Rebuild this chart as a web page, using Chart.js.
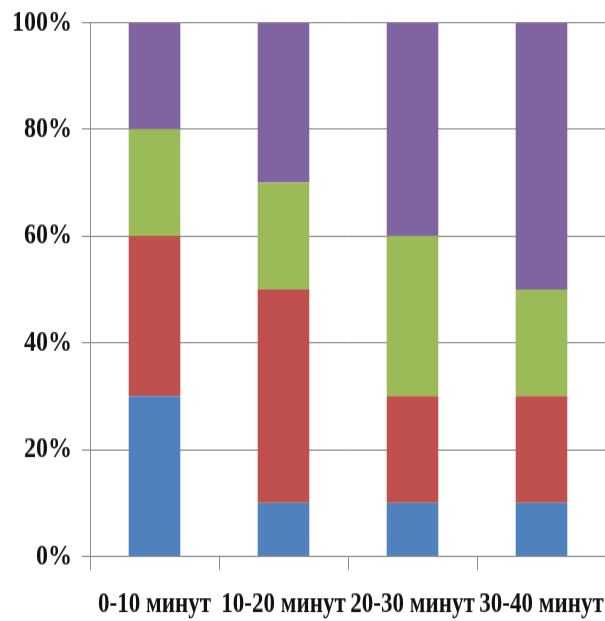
<!DOCTYPE html>
<html>
<head>
<meta charset="utf-8">
<script src="https://cdn.jsdelivr.net/npm/chart.js@4/dist/chart.umd.min.js"></script>
<style>
  html, body { margin: 0; padding: 0; background: #fff; overflow: hidden; }
  #wrap { width: 605px; height: 621px; overflow: hidden; position: relative; }
  /* tall, narrow Times-style lettering: the canvas is stretched vertically */
  #c { position: absolute; left: 0; top: -8.5px; transform: scaleY(1.25); transform-origin: 0 0; }
</style>
</head>
<body>
<div id="wrap"><canvas id="c" width="720" height="518"></canvas></div>
<script>
// Time intervals on the horizontal axis
const categories = ['0-10 минут', '10-20 минут', '20-30 минут', '30-40 минут'];

// Share of each group per interval, percent
const seriesBlue   = [30, 10, 10, 10];
const seriesRed    = [30, 40, 20, 20];
const seriesGreen  = [20, 20, 30, 20];
const seriesPurple = [20, 30, 40, 50];

const yTicks = [0, 20, 40, 60, 80, 100];

const fontFamily = '"Liberation Serif", "Times New Roman", serif';

const ctx = document.getElementById('c').getContext('2d');
new Chart(ctx, {
  type: 'bar',
  data: {
    labels: categories,
    datasets: [
      { data: seriesBlue,   backgroundColor: '#4F81BD' },
      { data: seriesRed,    backgroundColor: '#C0504D' },
      { data: seriesGreen,  backgroundColor: '#9BBB59' },
      { data: seriesPurple, backgroundColor: '#8064A2' }
    ]
  },
  options: {
    responsive: false,
    devicePixelRatio: 1,
    animation: false,
    layout: { padding: { left: 2, right: 114, top: 0, bottom: 0 } },
    datasets: { bar: { barPercentage: 0.4, categoryPercentage: 1.0 } },
    plugins: { legend: { display: false }, tooltip: { enabled: false } },
    scales: {
      x: {
        stacked: true,
        offset: true,
        grid: {
          offset: true,
          drawOnChartArea: false,
          drawTicks: true,
          tickLength: 11,
          color: '#8c8c8c',
          lineWidth: 1
        },
        border: { display: true, color: '#8c8c8c', width: 1 },
        ticks: {
          color: '#111',
          padding: 14,
          maxRotation: 0,
          autoSkip: false,
          font: { family: fontFamily, size: 23, weight: 'bold' }
        }
      },
      y: {
        stacked: true,
        min: 0,
        max: 100,
        afterBuildTicks: (axis) => { axis.ticks = yTicks.map(v => ({ value: v })); },
        grid: {
          color: '#8c8c8c',
          lineWidth: 1,
          drawTicks: true,
          tickLength: 8
        },
        border: { display: true, color: '#8c8c8c', width: 1 },
        ticks: {
          color: '#111',
          padding: 10,
          callback: (v) => v + '%',
          font: { family: fontFamily, size: 24, weight: 'bold' }
        }
      }
    }
  }
});
</script>
</body>
</html>
